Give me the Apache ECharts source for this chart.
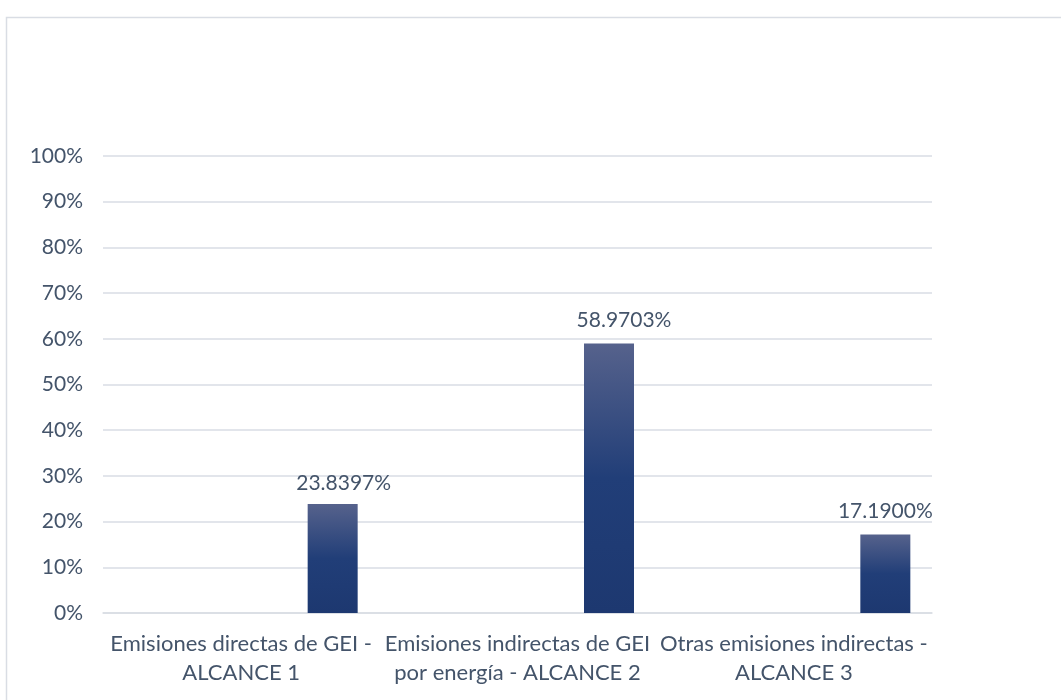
<!DOCTYPE html>
<html>
<head>
<meta charset="utf-8">
<script src="https://cdn.jsdelivr.net/npm/echarts@6/dist/echarts.min.js"></script>
<style>
  html, body { margin: 0; padding: 0; background: #ffffff; }
  #chart { width: 1061px; height: 700px; }
</style>
</head>
<body>
<div id="chart"></div>
<script>
// Categories (line breaks as shown on the axis)
const categories = [
  'Emisiones directas de GEI -\nALCANCE 1',
  'Emisiones indirectas de GEI\npor energía - ALCANCE 2',
  'Otras emisiones indirectas -\nALCANCE 3'
];
// Share of total emissions, in percent
const shares = [23.8397, 58.9703, 17.19];
// Empty companion series of the cluster (no values)
const companion = [null, null, null];

const textColor = '#44546a';
const gridColor = '#d9dde4';
const fontFamily = 'Lato, "Open Sans", sans-serif';

// Hand-placed value labels: nudge per bar
const labelNudge = [[11, 0], [15, -3], [0, -3]];

const chart = echarts.init(document.getElementById('chart'));
chart.setOption({
  animation: false,
  backgroundColor: '#ffffff',
  graphic: [{
    type: 'rect',
    left: 4, top: 15,
    shape: { width: 1200, height: 900 },
    style: { fill: 'none', stroke: '#d9dde4', lineWidth: 1.5 },
    silent: true
  }],
  grid: { left: 103, right: 129, top: 156, bottom: 87, containLabel: false },
  xAxis: {
    type: 'category',
    data: categories,
    axisLine: { show: true, lineStyle: { color: gridColor, width: 1.5 } },
    axisTick: { show: false },
    axisLabel: {
      color: textColor, fontFamily, fontSize: 22, lineHeight: 29,
      margin: 16, interval: 0
    }
  },
  yAxis: {
    type: 'value',
    min: 0, max: 100, interval: 10,
    axisLine: { show: false },
    axisTick: { show: false },
    splitLine: { lineStyle: { color: gridColor, width: 1.5 } },
    axisLabel: {
      color: textColor, fontFamily, fontSize: 21, margin: 20,
      formatter: v => v + '%'
    }
  },
  series: [
    {
      type: 'bar',
      data: companion,
      barWidth: 50,
      barGap: '266%'
    },
    {
      type: 'bar',
      data: shares.map((v, i) => ({ value: v, label: { offset: labelNudge[i] } })),
      barWidth: 50,
      itemStyle: {
        color: new echarts.graphic.LinearGradient(0, 0, 0, 1, [
          { offset: 0, color: '#56628c' },
          { offset: 0.5, color: '#213e78' },
          { offset: 1, color: '#1d3870' }
        ])
      },
      label: {
        show: true, position: 'top', distance: 10,
        color: textColor, fontFamily, fontSize: 21,
        formatter: p => p.value.toFixed(4) + '%'
      }
    }
  ]
});
</script>
</body>
</html>
